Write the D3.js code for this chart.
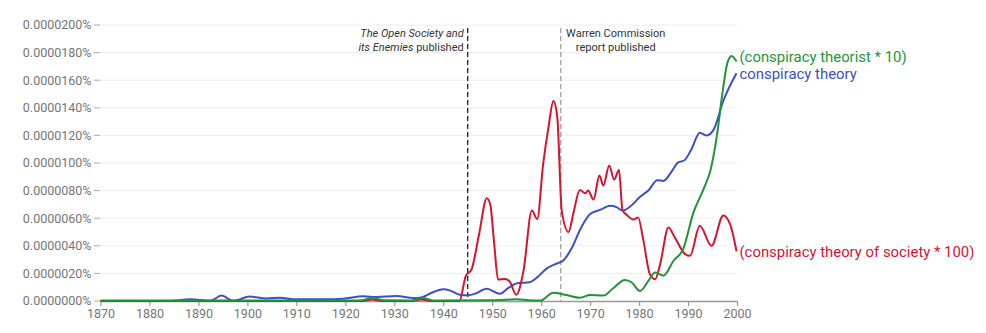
<!DOCTYPE html>
<html><head><meta charset="utf-8">
<script src="https://cdn.jsdelivr.net/npm/d3@7"></script>
<style>
html,body{margin:0;padding:0;background:#fff;}
svg{display:block;font-family:Roboto,"Noto Sans",sans-serif;}
</style></head>
<body><svg id="chart" width="986" height="333"></svg>
<script>
// Values in units of 0.0000001 %
const yTicks = [0,20,40,60,80,100,120,140,160,180,200];
const xTicks = [1870,1880,1890,1900,1910,1920,1930,1940,1950,1960,1970,1980,1990,2000];

const theoryPts = [[1870,0],[1884,0],[1888.3,1.2],[1892.4,0.1],[1894.7,3.9],[1897.1,0.1],[1900.5,3.2],[1903.9,1.9],[1906.7,2.4],[1909.4,1.2],[1915.5,1.2],[1919.6,1.7],[1923.7,3.4],[1926.4,2.9],[1930.5,3.6],[1933.9,2.2],[1935.5,2.6],[1937.8,6.2],[1940,8.6],[1941.5,7.5],[1943.4,4.6],[1945,4.2],[1946.5,5.2],[1948.9,8.8],[1951.6,5.3],[1953.3,9.5],[1955.3,13],[1957.6,13.6],[1959.3,17.5],[1961.1,23.5],[1963.2,27.2],[1964.4,29],[1966.2,38],[1968,52],[1970,63],[1972,66],[1974.1,69],[1975.4,68],[1976.6,65.5],[1978.2,68.5],[1980.2,75.5],[1982,80.5],[1983.7,87.5],[1985,87],[1986.5,93],[1988,100.5],[1989.2,101.8],[1990.7,110],[1992.4,122],[1993.8,120],[1995.2,124],[1997.2,145],[1999.9,165]];

const theoristPts = [[1870,0.3],[1921,0.3],[1923.5,0.6],[1925.6,2.4],[1927.8,0.5],[1933.5,0.4],[1935.8,2.2],[1938,0.3],[1950,0.5],[1953,0.9],[1955,1.3],[1957.5,0.5],[1959.8,0.3],[1962.5,6],[1965.2,4.3],[1967.9,2.4],[1970,4.3],[1972.7,3.9],[1974.7,9.2],[1977.1,15.2],[1978.5,13.4],[1980.2,7.2],[1981.9,14.5],[1983.3,20.6],[1985,18.4],[1987,29],[1989,37.6],[1991.1,64],[1993.4,83],[1994.6,95],[1995.9,120],[1997,150],[1998,172],[1998.9,177.5],[1999.9,173.5]];

const societyPts = [[1870,0],[1923.5,0],[1925.5,1],[1927.5,0],[1933.5,0],[1935.5,1],[1937.5,0],[1943.3,0],[1944.6,18],[1945.8,23],[1947.3,48],[1948.9,74.5],[1949.6,70],[1950.4,42],[1951.2,15.5],[1952.6,16],[1953.6,14],[1954.9,4.5],[1956.4,22],[1958.1,65.5],[1959.2,59.4],[1960.4,99],[1961.5,126],[1962.5,145],[1963.3,133],[1964.2,65.5],[1965.6,50],[1966.6,64],[1967.9,80.5],[1969,78],[1969.6,80],[1970.7,73.5],[1971.9,91],[1972.7,83.6],[1973.9,98.2],[1974.9,88],[1975.9,95],[1976.6,66],[1977.6,62],[1978.8,59],[1979.8,60.5],[1980.9,43.6],[1982.2,19.4],[1983.3,15.8],[1984.3,26.7],[1986,53.3],[1987.3,46],[1989.4,34],[1990.4,32.7],[1992.4,54.5],[1994.8,40],[1997.2,62],[1998.6,55.5],[1999.9,36]];

const seriesNames = ["conspiracy theory","(conspiracy theory of society * 100)","(conspiracy theorist * 10)"];
const seriesColors = ["#3c4fc6","#d41530","#1f9438"];
const seriesData = [theoryPts, societyPts, theoristPts];

const eventYears = [1945, 1964];
const eventColors = ["#111","#999"];

const svg = d3.select("#chart");
const x = d3.scaleLinear().domain([1870,2000]).range([100.5,737]);
const y = d3.scaleLinear().domain([0,200]).range([301,25]);

// gridlines + y labels
const yg = svg.append("g");
yTicks.forEach(t=>{
  if(t>0) yg.append("line").attr("x1",100).attr("x2",737).attr("y1",y(t)).attr("y2",y(t)).attr("stroke","#eeeeee").attr("stroke-width",1);
  yg.append("line").attr("x1",94).attr("x2",100).attr("y1",y(t)).attr("y2",y(t)).attr("stroke","#aaa").attr("stroke-width",1);
  yg.append("text").attr("x",91.5).attr("y",y(t)).attr("dy","0.35em").attr("text-anchor","end")
    .attr("font-size","12.5px").attr("fill","#757575").text((t*1e-7).toFixed(7)+"%");
});

// x axis
const xa = svg.append("g").attr("transform",`translate(0,${y(0)})`)
  .call(d3.axisBottom(x).tickValues(xTicks).tickFormat(d3.format("d")).tickSize(5).tickSizeOuter(0));
xa.select(".domain").attr("stroke","#999").attr("stroke-width",1.6);
xa.selectAll(".tick line").attr("stroke","#999").attr("stroke-width",1.2);
xa.selectAll(".tick text").attr("font-size","12.5px").attr("fill","#757575").attr("font-family","Roboto,sans-serif").attr("dy","0.85em").attr("y",6);

// event lines
eventYears.forEach((yr,i)=>{
  svg.append("line").attr("x1",x(yr)).attr("x2",x(yr)).attr("y1",28).attr("y2",y(0))
    .attr("stroke",eventColors[i]).attr("stroke-width",1.2).attr("stroke-dasharray","5,3");
});
const a1 = svg.append("text").attr("font-size","11px").attr("fill","#333").attr("text-anchor","end");
a1.append("tspan").attr("x",x(eventYears[0])-4).attr("y",37).attr("font-style","italic").text("The Open Society and");
const l2 = a1.append("tspan").attr("x",x(eventYears[0])-4).attr("y",51);
l2.append("tspan").attr("font-style","italic").text("its Enemies");
l2.append("tspan").text(" published");
const a2 = svg.append("text").attr("font-size","11px").attr("fill","#333").attr("text-anchor","middle");
a2.append("tspan").attr("x",x(eventYears[1])+55).attr("y",37).text("Warren Commission");
a2.append("tspan").attr("x",x(eventYears[1])+55).attr("y",51).text("report published");

// lines
const line = d3.line().x(d=>x(d[0])).y(d=>y(d[1])).curve(d3.curveMonotoneX);
seriesData.forEach((pts,i)=>{
  svg.append("path").datum(pts).attr("d",line).attr("fill","none")
    .attr("stroke",seriesColors[i]).attr("stroke-width",2).attr("stroke-linejoin","round");
});

// end labels with collision avoidance
const labels = seriesData.map((pts,i)=>({name:seriesNames[i],color:seriesColors[i],ly:y(pts[pts.length-1][1]),lx:x(pts[pts.length-1][0])}));
labels.sort((a,b)=>a.ly-b.ly);
for(let k=labels.length-2;k>=0;k--){
  if(labels[k+1].ly-labels[k].ly<16.5) labels[k].ly = labels[k+1].ly-16.5;
}
labels.forEach(l=>{
  svg.append("text").attr("x",l.lx+3).attr("y",l.ly).attr("dy","0.35em").attr("font-size","14.9px")
    .attr("fill",l.color).text(l.name);
});
</script></body></html>
